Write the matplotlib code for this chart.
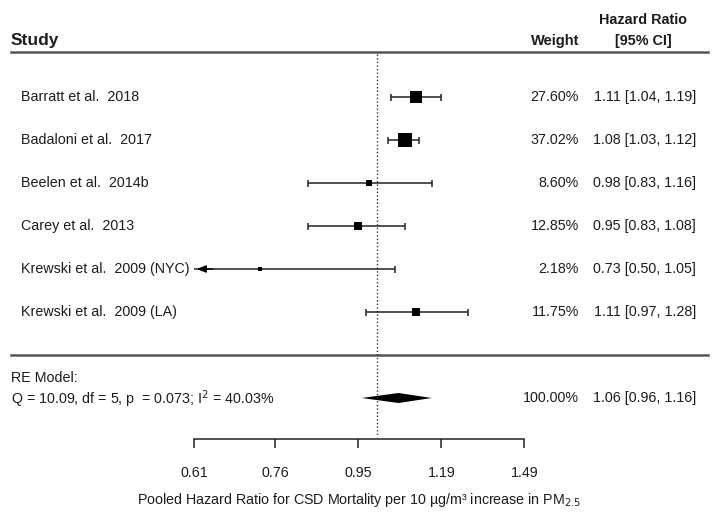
import matplotlib.pyplot as plt
import numpy as np
from matplotlib.transforms import blended_transform_factory

plt.rcParams['font.family'] = ['Liberation Sans', 'DejaVu Sans']

# data
studies = ["Barratt et al.  2018", "Badaloni et al.  2017", "Beelen et al.  2014b",
           "Carey et al.  2013", "Krewski et al.  2009 (NYC)", "Krewski et al.  2009 (LA)"]
hr = [1.11, 1.08, 0.98, 0.95, 0.73, 1.11]
lo = [1.04, 1.03, 0.83, 0.83, 0.50, 0.97]
hi = [1.19, 1.12, 1.16, 1.08, 1.05, 1.28]
weights = [27.60, 37.02, 8.60, 12.85, 2.18, 11.75]
re_hr, re_lo, re_hi = 1.06, 0.96, 1.16
re_stats = "Q = 10.09, df = 5, p  = 0.073; I$^2$ = 40.03%"
xticks = [0.61, 0.76, 0.95, 1.19, 1.49]

W, H = 720, 514
fig = plt.figure(figsize=(W / 100, H / 100), dpi=100)
ax = fig.add_axes([0, 0, 1, 1])
ax.set_xscale('log')
ax.set_xlim(0.3611, 2.5277)
ax.set_ylim(H, 0)
tr = blended_transform_factory(ax.transAxes, ax.transData)
dark = '#1c1c1c'
fs = 10.3

# header
ax.text(11 / W, 40, "Study", transform=tr, fontsize=12.5, fontweight='bold', color=dark, va='center')
ax.text(579 / W, 41, "Weight", transform=tr, fontsize=10.5, fontweight='bold', color=dark, va='center', ha='right')
ax.text(643 / W, 20, "Hazard Ratio", transform=tr, fontsize=10.4, fontweight='bold', color=dark, va='center', ha='center')
ax.text(643 / W, 41, "[95% CI]", transform=tr, fontsize=10.4, fontweight='bold', color=dark, va='center', ha='center')
ax.plot([11 / W, 708 / W], [52, 52], transform=tr, color='#555555', lw=1.8)
ax.plot([11 / W, 708 / W], [355, 355], transform=tr, color='#555555', lw=1.8)

# reference line
ax.vlines(1.0, 54, 437, colors='#333333', linestyles=(0, (1, 1.6)), lw=1)

xmin = xticks[0]
for i, name in enumerate(studies):
    y = 97 + 43 * i
    ax.text(21 / W, y, name, transform=tr, fontsize=fs, color=dark, va='center')
    ax.text(579 / W, y, f"{weights[i]:.2f}%", transform=tr, fontsize=fs, color=dark, va='center', ha='right')
    ax.text(696 / W, y, f"{hr[i]:.2f} [{lo[i]:.2f}, {hi[i]:.2f}]", transform=tr, fontsize=fs,
            color=dark, va='center', ha='right')
    left = max(lo[i], xmin)
    ax.hlines(y, left, hi[i], colors='#222222', lw=1.1)
    ax.vlines(hi[i], y - 3.5, y + 3.5, colors='#222222', lw=1.1)
    if lo[i] < xmin:
        ax.annotate('', xy=(xmin, y), xytext=(xmin * 1.06, y),
                    arrowprops=dict(arrowstyle='-|>,head_length=0.55,head_width=0.22', color='black', lw=1))
    else:
        ax.vlines(lo[i], y - 3.5, y + 3.5, colors='#222222', lw=1.1)
    side = 2.2 * np.sqrt(weights[i]) * 0.72
    ax.scatter([hr[i]], [y], marker='s', s=side ** 2, color='black', zorder=3, linewidths=0)

# RE model
ax.text(11 / W, 378, "RE Model:", transform=tr, fontsize=fs, color=dark, va='center')
ax.text(11 / W, 399, re_stats, transform=tr, fontsize=fs, color=dark, va='center')
ax.text(579 / W, 398, "100.00%", transform=tr, fontsize=fs, color=dark, va='center', ha='right')
ax.text(696 / W, 398, f"{re_hr:.2f} [{re_lo:.2f}, {re_hi:.2f}]", transform=tr, fontsize=fs,
        color=dark, va='center', ha='right')
ax.fill([re_lo, re_hr, re_hi, re_hr], [398, 393, 398, 403], color='black', lw=0)

# axis
for s in ['top', 'left', 'right']:
    ax.spines[s].set_visible(False)
ax.spines['bottom'].set_position(('data', 439))
ax.spines['bottom'].set_bounds(xticks[0], xticks[-1])
ax.spines['bottom'].set_color('#222222')
ax.spines['bottom'].set_linewidth(1.1)
ax.set_xticks(xticks)
ax.set_xticklabels([f"{t:.2f}" for t in xticks])
ax.minorticks_off()
ax.tick_params(axis='x', which='major', direction='out', length=6.5, width=1.1, color='#222222',
               pad=13, labelsize=fs, labelcolor=dark)
ax.set_yticks([])
ax.text(359 / W, 500, "Pooled Hazard Ratio for CSD Mortality per 10 µg/m³ increase in PM$_{2.5}$",
        transform=tr, fontsize=fs, color=dark, va='center', ha='center')

fig.savefig('out.png', dpi=100)
